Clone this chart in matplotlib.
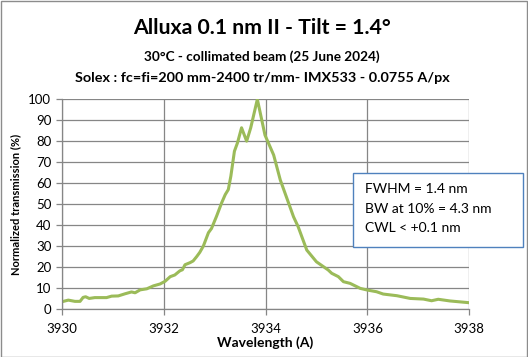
import matplotlib
matplotlib.use("Agg")
import matplotlib.pyplot as plt
from matplotlib.patches import Rectangle

wavelength = [3930.00, 3930.13, 3930.26, 3930.36, 3930.42, 3930.47, 3930.54, 3930.65, 3930.88,
              3930.98, 3931.11, 3931.24, 3931.37, 3931.44, 3931.54, 3931.67, 3931.80, 3931.93,
              3932.03, 3932.13, 3932.22, 3932.32, 3932.37, 3932.42, 3932.52, 3932.58, 3932.65,
              3932.71, 3932.78, 3932.83, 3932.88, 3932.94, 3933.04, 3933.14, 3933.21, 3933.27,
              3933.32, 3933.39, 3933.45, 3933.53, 3933.63, 3933.71, 3933.84, 3933.99, 3934.16,
              3934.29, 3934.42, 3934.55, 3934.64, 3934.81, 3935.00, 3935.23, 3935.30, 3935.43,
              3935.53, 3935.66, 3935.86, 3936.00, 3936.18, 3936.31, 3936.58, 3936.84, 3937.10,
              3937.26, 3937.39, 3937.62, 3937.98]
transmission = [3.3, 4.1, 3.5, 3.5, 5.4, 5.7, 4.9, 5.3, 5.3,
                6.0, 6.1, 7.1, 8.0, 7.6, 9.0, 9.5, 10.9, 11.8,
                13.1, 15.3, 16.1, 18.1, 18.6, 21.0, 22.0, 22.8, 24.9,
                26.9, 29.9, 33.1, 36.3, 38.3, 44.2, 50.6, 54.5, 56.9,
                63.3, 75.2, 79.2, 86.4, 80.0, 86.4, 100.0, 82.9, 73.4,
                61.5, 52.7, 43.9, 39.2, 28.0, 22.4, 18.5, 16.9, 15.3,
                12.9, 12.1, 9.7, 8.9, 8.1, 7.0, 6.2, 4.9, 4.6,
                3.8, 4.5, 3.7, 2.9]

x_ticks = [3930, 3932, 3934, 3936, 3938]
y_ticks = list(range(0, 101, 10))

title = "Alluxa 0.1 nm II - Tilt = 1.4°"
subtitle1 = "30°C - collimated beam (25 June 2024)"
subtitle2 = "Solex : fc=fi=200 mm-2400 tr/mm- IMX533 - 0.0755 A/px"
box_lines = ["FWHM = 1.4 nm", "BW at 10% = 4.3 nm", "CWL < +0.1 nm"]

plt.rcParams['font.family'] = ['Lato', 'DejaVu Sans']

W, H = 528, 357
fig = plt.figure(figsize=(W / 100, H / 100), dpi=100)
fig.patch.set_facecolor('white')
fig.add_artist(Rectangle((0.5 / W, 0.5 / H), 1 - 1.5 / W, 1 - 1.5 / H, transform=fig.transFigure,
                         fill=False, edgecolor='#8c8c8c', linewidth=1.0))

ax = fig.add_axes([61.7 / W, 1 - 308.7 / H, (469.3 - 61.7) / W, (308.7 - 99.3) / H])
ax.plot(wavelength, transmission, color='#9BBB59', linewidth=2.2, solid_joinstyle='round')
ax.set_xlim(3930, 3938)
ax.set_ylim(0, 100)
ax.set_xticks(x_ticks)
ax.set_yticks(y_ticks)
ax.grid(True, color='#868686', linewidth=0.9)
ax.set_axisbelow(True)
for s in ['top', 'right']:
    ax.spines[s].set_visible(False)
for s in ['left', 'bottom']:
    ax.spines[s].set_color('#868686')
    ax.spines[s].set_linewidth(0.9)
ax.tick_params(axis='both', colors='#868686', length=4, width=0.9, labelcolor='black', labelsize=9.5)
ax.tick_params(axis='x', pad=6)
ax.set_xlabel("Wavelength (A)", fontsize=10, fontweight='bold', labelpad=1)
ax.set_ylabel("Normalized transmission (%)", fontsize=8, fontweight='bold', labelpad=5)

fig.text(262 / W, 1 - 28 / H, title, ha='center', va='center', fontsize=15.3, fontweight='bold')
fig.text(262 / W, 1 - 57 / H, subtitle1, ha='center', va='center', fontsize=9.8, fontweight='bold')
fig.text(262 / W, 1 - 78 / H, subtitle2, ha='center', va='center', fontsize=10.4, fontweight='bold')

bx0, bx1, by0, by1 = 353.3, 522.7, 173.3, 246.7
fig.add_artist(Rectangle((bx0 / W, 1 - by1 / H), (bx1 - bx0) / W, (by1 - by0) / H,
                         transform=fig.transFigure, facecolor='white', edgecolor='#4F81BD', linewidth=1.0,
                         zorder=5))
for i, line in enumerate(box_lines):
    fig.text(365 / W, 1 - (189 + i * 19.7) / H, line, ha='left', va='center', fontsize=10, zorder=6)

fig.savefig("out.png", dpi=100)
